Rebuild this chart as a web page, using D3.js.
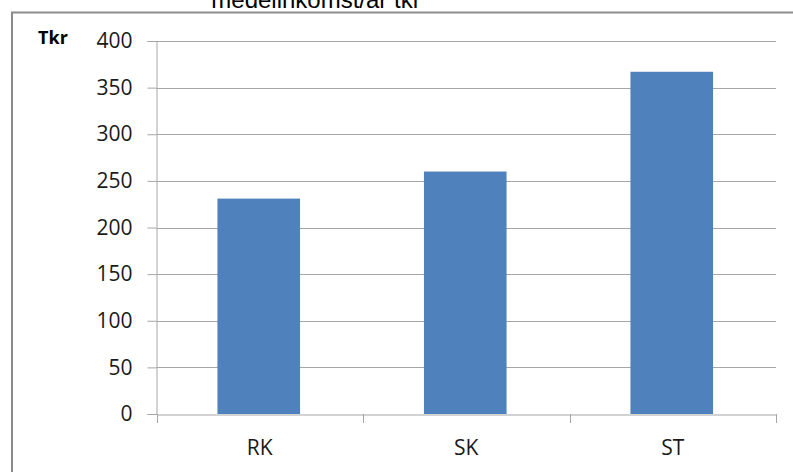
<!DOCTYPE html>
<html><head><meta charset="utf-8">
<script src="https://cdn.jsdelivr.net/npm/d3@7"></script>
<style>body{margin:0;background:#fff;}svg{display:block;}</style>
</head><body>
<svg id="c" width="793" height="472"></svg>
<script>
const categories = ["RK", "SK", "ST"];
const values = [231, 260, 367];
const yTicks = [0, 50, 100, 150, 200, 250, 300, 350, 400];
const title = "medelinkomst/år tkr";
const unitLabel = "Tkr";

(function () {
const FONT = "'Open Sans', 'Noto Sans', sans-serif";
const svg = d3.select("#c");
const mLeft = 156.5, mRight = 776, mTop = 41, mBottom = 414;

// outer frame
svg.append("path").attr("d", "M12,472 V12.5 H793").attr("fill", "none").attr("stroke", "#8c8c8c").attr("stroke-width", 2);

// title (cut at top)
svg.append("text").attr("x", 316).attr("y", 8).attr("text-anchor", "middle")
  .attr("font-family", "'Liberation Sans', Arial, sans-serif").attr("font-size", 24).attr("fill", "#000").text(title);

const x = d3.scaleBand().domain(categories).range([mLeft, mRight]).padding(0);
const y = d3.scaleLinear().domain([0, 400]).range([mBottom, mTop]);

// gridlines
svg.append("g").selectAll("line").data(yTicks.filter(d => d > 0)).join("line")
  .attr("x1", mLeft).attr("x2", mRight)
  .attr("y1", d => Math.round(y(d)) + 0.5).attr("y2", d => Math.round(y(d)) + 0.5)
  .attr("stroke", "#a6a6a6").attr("stroke-width", 1);

// y axis
const yAxis = svg.append("g").attr("transform", `translate(${mLeft},0)`)
  .call(d3.axisLeft(y).tickValues(yTicks).tickSize(9).tickPadding(15).tickFormat(d3.format("d")));
yAxis.attr("font-family", FONT);
yAxis.select(".domain").attr("stroke", "#a6a6a6");
yAxis.selectAll(".tick line").attr("stroke", "#a6a6a6");
yAxis.selectAll(".tick text").attr("font-size", 21).attr("font-family", FONT).attr("fill", "#1a1a1a");

// bars
const bw = x.bandwidth() * 0.4;
svg.append("g").selectAll("rect").data(values).join("rect")
  .attr("x", (d, i) => x(categories[i]) + x.bandwidth() / 2 - bw / 2 - 1)
  .attr("y", d => y(d))
  .attr("width", bw)
  .attr("height", d => mBottom - y(d))
  .attr("fill", "#4f81bd");

// x axis
const xAxis = svg.append("g").attr("transform", `translate(0,${mBottom + 0.5})`)
  .call(d3.axisBottom(x).tickSize(0).tickPadding(26));
xAxis.attr("font-family", FONT);
xAxis.select(".domain").attr("stroke", "#a6a6a6");
xAxis.selectAll(".tick text").attr("font-size", 21).attr("font-family", FONT).attr("fill", "#1a1a1a");
// boundary ticks
const bounds = [mLeft, ...categories.map(c => x(c) + x.bandwidth())];
svg.append("g").selectAll("line").data(bounds).join("line")
  .attr("x1", d => Math.round(d) + 0.5).attr("x2", d => Math.round(d) + 0.5)
  .attr("y1", mBottom).attr("y2", mBottom + 9)
  .attr("stroke", "#a6a6a6");

// unit label
svg.append("text").attr("x", 53).attr("y", 44).attr("text-anchor", "middle")
  .attr("font-family", FONT).attr("font-size", 18).attr("font-weight", "bold").attr("fill", "#000").text(unitLabel);
})();
</script>
</body></html>
